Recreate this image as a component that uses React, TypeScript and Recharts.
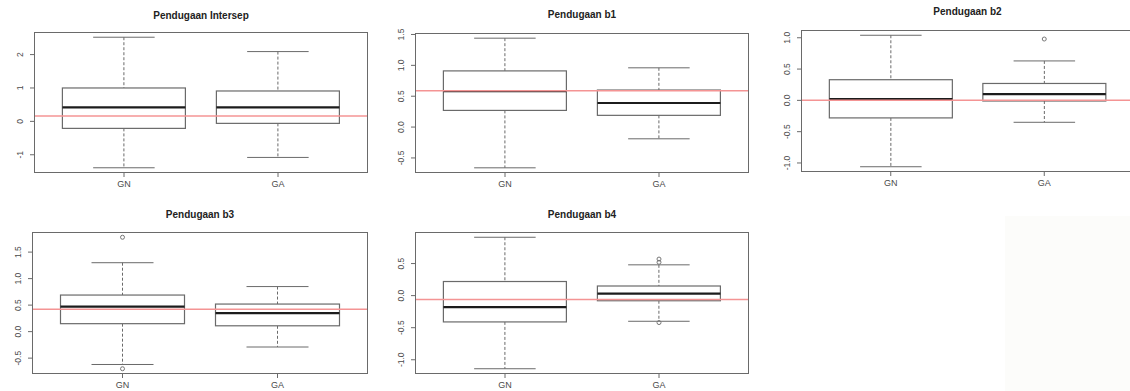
import React from 'react';
import { ComposedChart, Bar, Line, XAxis, YAxis, ReferenceLine } from 'recharts';

// ── Data ─────────────────────────────────────────────────────────────────────

const groups = ['GN', 'GA'];

// five-number summaries: [low whisker, Q1, median, Q3, high whisker]
const intersepGN = [-1.39, -0.21, 0.42, 1.0, 2.52];
const intersepGA = [-1.08, -0.06, 0.42, 0.91, 2.09];
const b1GN = [-0.66, 0.27, 0.58, 0.91, 1.44];
const b1GA = [-0.19, 0.19, 0.39, 0.6, 0.96];
const b2GN = [-1.06, -0.28, 0.02, 0.33, 1.04];
const b2GA = [-0.35, -0.01, 0.1, 0.27, 0.63];
const b3GN = [-0.62, 0.15, 0.47, 0.69, 1.3];
const b3GA = [-0.29, 0.11, 0.35, 0.52, 0.85];
const b4GN = [-1.14, -0.41, -0.18, 0.22, 0.91];
const b4GA = [-0.4, -0.08, 0.03, 0.15, 0.48];

// outliers per group [GN, GA]
const noOut: number[][] = [[], []];
const b2Out = [[], [0.98]];
const b3Out = [[1.78, -0.7], []];
const b4Out = [[], [0.57, 0.52, -0.42]];

// true parameter values (red line)
const trueValues = [0.16, 0.59, 0.0, 0.42, -0.06];

const titles = ['Pendugaan Intersep', 'Pendugaan b1', 'Pendugaan b2', 'Pendugaan b3', 'Pendugaan b4'];

const intersepTicks = [-1, 0, 1, 2];
const b1Ticks = [-0.5, 0, 0.5, 1, 1.5];
const b2Ticks = [-1, -0.5, 0, 0.5, 1];
const b3Ticks = [-0.5, 0, 0.5, 1, 1.5];
const b4Ticks = [-1, -0.5, 0, 0.5];
const tickDecimals = [0, 1, 1, 1, 1];

// ── Layout ───────────────────────────────────────────────────────────────────

// plot rectangle of each panel (page px) and title top
const LAYOUT = [
  { left: 34, top: 32, w: 334, h: 141, titleTop: 11 },
  { left: 415, top: 33, w: 334, h: 140, titleTop: 10 },
  { left: 801, top: 30, w: 333, h: 142, titleTop: 7 },
  { left: 32, top: 232, w: 336, h: 142, titleTop: 210 },
  { left: 415, top: 232, w: 334, h: 142, titleTop: 210 },
];

const ML = 34; // space left of plot (y axis)
const YW = 30;
const MT = 8;
const MR = 4;
const MB = 24; // x axis height
const FONT = '"Liberation Sans", Arial, sans-serif';
const LINE = '#6a6a6a';

const PANELS = [
  { stats: [intersepGN, intersepGA], outs: noOut, ticks: intersepTicks },
  { stats: [b1GN, b1GA], outs: noOut, ticks: b1Ticks },
  { stats: [b2GN, b2GA], outs: b2Out, ticks: b2Ticks },
  { stats: [b3GN, b3GA], outs: b3Out, ticks: b3Ticks },
  { stats: [b4GN, b4GA], outs: b4Out, ticks: b4Ticks },
];

// ── Box shape ────────────────────────────────────────────────────────────────

function BoxShape(props: any) {
  const { x, y, width, height, payload } = props;
  const { low, q1, med, q3, high } = payload;
  const top = Math.min(y, y + height);
  const bottom = Math.max(y, y + height);
  const toPx = (v: number) => bottom - ((v - low) / (high - low)) * (bottom - top);
  const cx = x + width / 2;
  const cap = width / 4;
  const yq1 = toPx(q1);
  const yq3 = toPx(q3);
  const ym = toPx(med);
  return (
    <g>
      <line x1={cx} x2={cx} y1={top} y2={yq3} stroke={LINE} strokeDasharray="3 2" />
      <line x1={cx} x2={cx} y1={yq1} y2={bottom} stroke={LINE} strokeDasharray="3 2" />
      <line x1={cx - cap} x2={cx + cap} y1={top} y2={top} stroke={LINE} />
      <line x1={cx - cap} x2={cx + cap} y1={bottom} y2={bottom} stroke={LINE} />
      <rect x={x} y={yq3} width={width} height={yq1 - yq3} fill="#fff" stroke={LINE} strokeWidth={1.2} />
      <line x1={x} x2={x + width} y1={ym} y2={ym} stroke="#1c1c1c" strokeWidth={2.2} />
    </g>
  );
}

function YTick(props: any) {
  const { x, y, payload, decimals } = props;
  return (
    <text
      x={x}
      y={y}
      transform={`rotate(-90, ${x}, ${y})`}
      textAnchor="middle"
      fontSize={8.5}
      fontFamily={FONT}
      fill="#4a4a4a"
    >
      {Number(payload.value).toFixed(decimals)}
    </text>
  );
}

function Panel({ idx }: { idx: number }) {
  const p = PANELS[idx];
  const lay = LAYOUT[idx];
  const rows = groups.map((g, i) => {
    const s = p.stats[i];
    const o = p.outs[i];
    return {
      name: g,
      range: [s[0], s[4]],
      low: s[0],
      q1: s[1],
      med: s[2],
      q3: s[3],
      high: s[4],
      out1: o[0] ?? null,
      out2: o[1] ?? null,
      out3: o[2] ?? null,
    };
  });
  const all = p.stats.flat().concat(p.outs.flat());
  const mn = Math.min(...all);
  const mx = Math.max(...all);
  const pad = (mx - mn) * 0.04;

  const W = lay.w + ML + MR;
  const H = lay.h + MT + MB;
  const dot = { r: 2, fill: 'none', stroke: '#777', strokeWidth: 1 };

  return (
    <>
      <div
        style={{
          position: 'absolute',
          left: lay.left + lay.w / 2,
          top: lay.titleTop,
          transform: 'translateX(-50%)',
          fontFamily: FONT,
          fontWeight: 'bold',
          fontSize: 10,
          lineHeight: '10px',
          color: '#222',
          whiteSpace: 'nowrap',
        }}
      >
        {titles[idx]}
      </div>
      <div style={{ position: 'absolute', left: lay.left - ML, top: lay.top - MT, width: W, height: H }}>
        <ComposedChart
          width={W}
          height={H}
          data={rows}
          margin={{ top: MT, right: MR, left: ML - YW, bottom: 0 }}
          barCategoryGap="10%"
        >
          <XAxis
            dataKey="name"
            height={MB}
            padding={{ left: 13, right: 13 }}
            axisLine={false}
            tickLine={{ stroke: LINE }}
            tickSize={4}
            tickMargin={4}
            tick={{ fontSize: 9, fontFamily: FONT, fill: '#4a4a4a' }}
            interval={0}
          />
          <YAxis
            type="number"
            width={YW}
            domain={[mn - pad, mx + pad]}
            ticks={p.ticks}
            allowDataOverflow
            axisLine={false}
            tickLine={{ stroke: LINE }}
            tickSize={4}
            tickMargin={7}
            tick={<YTick decimals={tickDecimals[idx]} />}
          />
          <Bar dataKey="range" shape={<BoxShape />} isAnimationActive={false} activeBar={false} />
          <ReferenceLine y={trueValues[idx]} stroke="#f49494" strokeWidth={1.5} />
          <Line dataKey="out1" stroke="none" dot={dot} activeDot={false} isAnimationActive={false} />
          <Line dataKey="out2" stroke="none" dot={dot} activeDot={false} isAnimationActive={false} />
          <Line dataKey="out3" stroke="none" dot={dot} activeDot={false} isAnimationActive={false} />
        </ComposedChart>
      </div>
      {/* plot frame */}
      <div
        style={{
          position: 'absolute',
          left: lay.left,
          top: lay.top,
          width: lay.w,
          height: lay.h,
          border: `1px solid ${LINE}`,
          boxSizing: 'border-box',
          pointerEvents: 'none',
        }}
      />
    </>
  );
}

export default function App() {
  return (
    <div
      style={{
        position: 'absolute',
        left: 0,
        top: 0,
        width: 1130,
        height: 391,
        overflow: 'hidden',
        background: '#fff',
      }}
    >
      <div style={{ position: 'absolute', left: 1005, top: 216, width: 125, height: 175, background: '#fcfcfa' }} />
      {PANELS.map((_, i) => (
        <Panel key={i} idx={i} />
      ))}
    </div>
  );
}
